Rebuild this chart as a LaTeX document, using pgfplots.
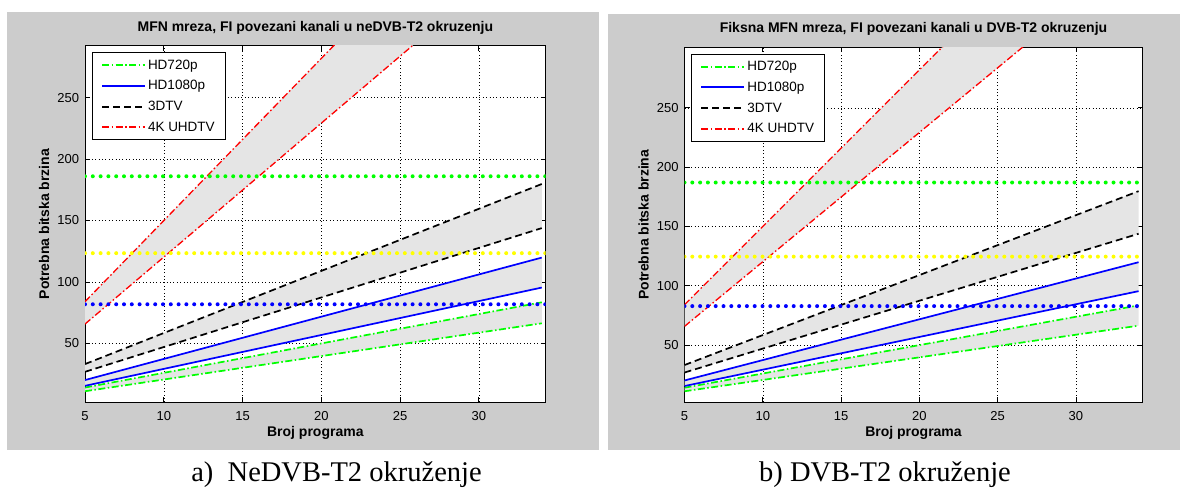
\documentclass[border=0pt]{standalone}
\usepackage{pgfplots}
\pgfplotsset{compat=1.18}
\usepackage{fontspec}
\setmainfont{Liberation Sans}
\newfontfamily\captfont{Liberation Serif}

\definecolor{mgreen}{rgb}{0,1,0}
\definecolor{mblue}{rgb}{0,0,1}
\definecolor{mred}{rgb}{1,0,0}
\definecolor{myellow}{rgb}{1,1,0}
\definecolor{panelgray}{rgb}{0.8,0.8,0.8}
\definecolor{bandgray}{rgb}{0.9,0.9,0.9}

\tikzset{
  g720/.style={color=mgreen, line width=1.7pt, dash pattern=on 7pt off 2.5pt on 1.5pt off 2.5pt},
  b1080/.style={color=mblue, line width=1.7pt, solid},
  k3d/.style={color=black, line width=1.7pt, dash pattern=on 7pt off 4pt},
  r4k/.style={color=mred, line width=1.3pt, dash pattern=on 7pt off 2.5pt on 1.5pt off 2.5pt},
  thr/.style={line width=4pt, line cap=round, dash pattern=on 0pt off 7.8pt},
  band/.style={fill=bandgray, draw=none},
}

\pgfplotsset{
  mstyle/.style={
    scale only axis,
    axis background/.style={fill=white},
    xmin=5, xmax=34.25,
    xtick={5,10,...,30},
    ytick={50,100,...,250},
    no marks,
    grid=major,
    major grid style={black, line width=0.5pt, dash pattern=on 0.8pt off 2.6pt},
    axis line style={black, line width=1pt},
    tick style={black, line width=0.6pt},
    major tick length=5pt,
    tick align=inside,
    ticklabel style={font=\fontsize{13}{14}\selectfont},
    /pgf/number format/assume math mode=true,
    xticklabel style={anchor=base, yshift=-18.4pt},
    yticklabel style={anchor=east, inner sep=0pt, xshift=-5.7pt},
    title style={font=\bfseries\fontsize{14}{16}\selectfont, anchor=base},
    xlabel style={font=\bfseries\fontsize{14}{16}\selectfont, anchor=base},
    ylabel style={font=\bfseries\fontsize{14}{16}\selectfont, anchor=center},
    xlabel={Broj programa},
    ylabel={Potrebna bitska brzina},
    legend cell align=left,
    legend image code/.code={\draw[##1, line width=2pt] (0pt,0pt) -- (43pt,0pt);},
    legend style={at={(0.0152,0.982)}, anchor=north west, draw=black, line width=1pt,
      fill=white, font=\fontsize{13.5}{15}\selectfont, inner xsep=8.5pt, inner ysep=5pt,
      row sep=5.8pt},
  }
}

% threshold levels: #1 green, #2 yellow, #3 blue
\newcommand{\panelplots}[3]{%
  \addplot[band, forget plot] coordinates {(5,14) (34,83.4) (34,66.3) (5,11)};
  \addplot[band, forget plot] coordinates {(5,20.1) (34,119.8) (34,95.4) (5,15.4)};
  \addplot[band, forget plot] coordinates {(5,33.1) (34,179.7) (34,143.8) (5,26.8)};
  \addplot[band, forget plot] coordinates {(5,83.9) (34,466.7) (34,381.8) (5,65.7)};
  \addplot[g720] coordinates {(5,14) (34,83.4)};
  \addlegendentry{HD720p}
  \addplot[b1080] coordinates {(5,20.1) (34,119.8)};
  \addlegendentry{HD1080p}
  \addplot[k3d] coordinates {(5,33.1) (34,179.7)};
  \addlegendentry{3DTV}
  \addplot[r4k] coordinates {(5,83.9) (34,466.7)};
  \addlegendentry{4K UHDTV}
  \addplot[g720, forget plot] coordinates {(5,11) (34,66.3)};
  \addplot[b1080, forget plot] coordinates {(5,15.4) (34,95.4)};
  \addplot[k3d, forget plot] coordinates {(5,26.8) (34,143.8)};
  \addplot[r4k, forget plot] coordinates {(5,65.7) (34,381.8)};
  \addplot[thr, color=mgreen, forget plot] coordinates {(5,#1) (34.25,#1)};
  \addplot[thr, color=myellow, forget plot] coordinates {(5,#2) (34.25,#2)};
  \addplot[thr, color=mblue, forget plot] coordinates {(5,#3) (34.25,#3)};
}

\begin{document}
\begin{tikzpicture}
\path[fill=white] (0pt,0pt) rectangle (1186pt,494pt);
\fill[panelgray] (6.5pt,44pt) rectangle (598.5pt,482pt);
\fill[panelgray] (607.5pt,44pt) rectangle (1180pt,480pt);

\begin{axis}[mstyle, at={(85pt,91.7pt)}, anchor=south west,
  width=460.7pt, height=356.6pt, ymin=2, ymax=292.3,
  title={MFN mreza, FI povezani kanali u neDVB-T2 okruzenju},
  title style={at={(axis description cs:0.5,1.0238)}},
  xlabel style={at={(axis description cs:0.5,-0.0973)}},
  ylabel style={at={(axis description cs:-0.089,0.5)}}]
\panelplots{186}{123.4}{81.8}
\end{axis}

\begin{axis}[mstyle, at={(684.5pt,91.7pt)}, anchor=south west,
  width=458pt, height=355pt, ymin=1.7, ymax=301,
  title={Fiksna MFN mreza, FI povezani kanali u DVB-T2 okruzenju},
  title style={at={(axis description cs:0.5,1.0239)}},
  xlabel style={at={(axis description cs:0.5,-0.0977)}},
  ylabel style={at={(axis description cs:-0.0895,0.5)}}]
\panelplots{187}{124.5}{82.8}
\end{axis}

\node[font=\captfont\fontsize{28.5}{30}\selectfont, anchor=base] at (336.5pt,12.5pt) {a)~~NeDVB-T2 okruženje};
\node[font=\captfont\fontsize{28.5}{30}\selectfont, anchor=base] at (885pt,12.5pt) {b) DVB-T2 okruženje};
\end{tikzpicture}
\end{document}
